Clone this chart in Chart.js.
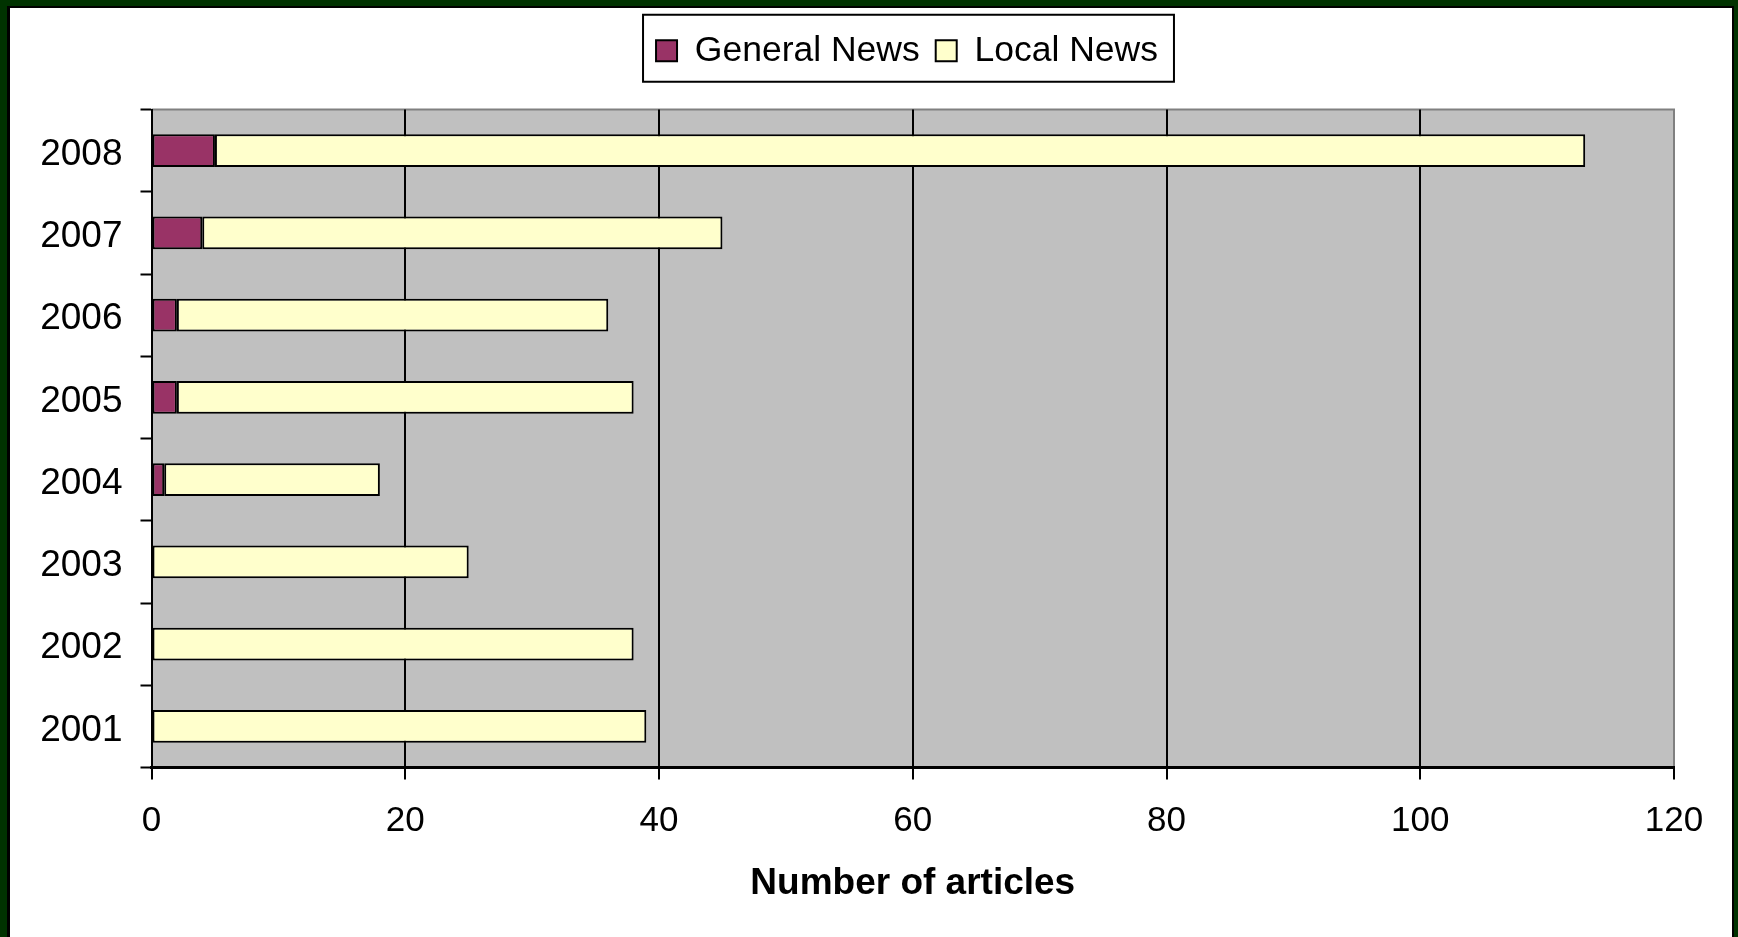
<!DOCTYPE html>
<html>
<head>
<meta charset="utf-8">
<title>Number of articles</title>
<script src="https://cdn.jsdelivr.net/npm/chart.js@4.4.0/dist/chart.umd.min.js"></script>
<style>
  html, body { margin: 0; padding: 0; background: #003300; overflow: hidden; }
  #frame {
    position: absolute; left: 7px; top: 6px;
    width: 1722px; height: 940px; background: #fff;
    border-left: 3px solid #000; border-top: 2px solid #000; border-right: 2px solid #000;
  }
  canvas { display: block; }
</style>
</head>
<body>
<div id="frame"><canvas id="myChart" width="1722" height="929"></canvas></div>
<script>
'use strict';

var years = ['2001', '2002', '2003', '2004', '2005', '2006', '2007', '2008'];
var generalNews = [0, 0, 0, 1, 2, 2, 4, 5];
var localNews = [39, 38, 25, 17, 36, 34, 41, 108];
var xTicks = [0, 20, 40, 60, 80, 100, 120];

var fontName = "'Liberation Sans', Arial, sans-serif";
Chart.defaults.color = '#000';
Chart.defaults.font.family = fontName;

// grey plot area with its darker top and right edge
var plotBackground = {
  id: 'plotBackground',
  beforeDraw: function(chart) {
    var a = chart.chartArea;
    var ctx = chart.ctx;
    ctx.save();
    ctx.fillStyle = '#c0c0c0';
    ctx.fillRect(a.left, a.top, a.right - a.left, a.bottom - a.top);
    ctx.strokeStyle = '#808080';
    ctx.lineWidth = 2;
    ctx.beginPath();
    ctx.moveTo(a.left, a.top);
    ctx.lineTo(a.right, a.top);
    ctx.lineTo(a.right, a.bottom);
    ctx.stroke();
    ctx.restore();
  }
};

// extra room under the legend, legend nudged right, and a box drawn round it
var legendFrame = {
  id: 'legendFrame',
  beforeInit: function(chart) {
    var fit = chart.legend.fit;
    chart.legend.fit = function() {
      fit.bind(chart.legend)();
      this.height += 31;
    };
  },
  afterLayout: function(chart) {
    chart.legend.left += 60;
    chart.legend.right += 60;
  },
  afterDraw: function(chart) {
    var boxes = chart.legend.legendHitBoxes;
    if (!boxes || !boxes.length) return;
    var first = boxes[0];
    var last = boxes[boxes.length - 1];
    var mid = first.top + first.height / 2;
    var ctx = chart.ctx;
    ctx.save();
    ctx.strokeStyle = '#000';
    ctx.lineWidth = 2;
    ctx.strokeRect(first.left - 13, mid - 36, last.left + last.width + 29 - first.left, 67);
    ctx.restore();
  }
};

var ctx = document.getElementById('myChart').getContext('2d');

var myChart = new Chart(ctx, {
  type: 'bar',
  data: {
    labels: years,
    datasets: [{
      label: 'General News',
      data: generalNews,
      backgroundColor: '#993366',
      borderColor: '#000',
      borderWidth: 2,
      borderSkipped: false
    }, {
      label: 'Local News',
      data: localNews,
      backgroundColor: '#ffffcc',
      borderColor: '#000',
      borderWidth: 2,
      borderSkipped: false
    }]
  },
  options: {
    indexAxis: 'y',
    responsive: false,
    animation: false,
    categoryPercentage: 0.8,
    barPercentage: 0.5,
    layout: {
      padding: { top: 9, left: 10, right: 58, bottom: 0 }
    },
    plugins: {
      tooltip: { enabled: false },
      legend: {
        position: 'top',
        labels: {
          boxWidth: 21,
          boxHeight: 21,
          padding: 16,
          font: { size: 35.5 }
        }
      }
    },
    scales: {
      x: {
        stacked: true,
        min: xTicks[0],
        max: xTicks[xTicks.length - 1],
        ticks: {
          stepSize: xTicks[1] - xTicks[0],
          padding: 21,
          font: { size: 35 }
        },
        grid: {
          color: function(c) { return c.tick && c.tick.value === xTicks[xTicks.length - 1] ? '#808080' : '#000'; },
          lineWidth: 2,
          tickLength: 12,
          tickColor: '#000',
          tickWidth: 2
        },
        border: { color: '#000', width: 3 },
        title: {
          display: true,
          text: 'Number of articles',
          font: { size: 37, weight: 'bold' },
          padding: { top: 0, bottom: 31 }
        },
        afterFit: function(scale) { scale.height = 169.5; }
      },
      y: {
        stacked: true,
        reverse: true,
        ticks: {
          padding: 18,
          labelOffset: 4,
          font: { size: 37 }
        },
        grid: {
          drawOnChartArea: false,
          tickLength: 11,
          tickColor: '#000',
          tickWidth: 2
        },
        border: { color: '#000', width: 2 },
        afterFit: function(scale) { scale.width = 131.5; }
      }
    }
  },
  plugins: [plotBackground, legendFrame]
});
</script>
</body>
</html>
